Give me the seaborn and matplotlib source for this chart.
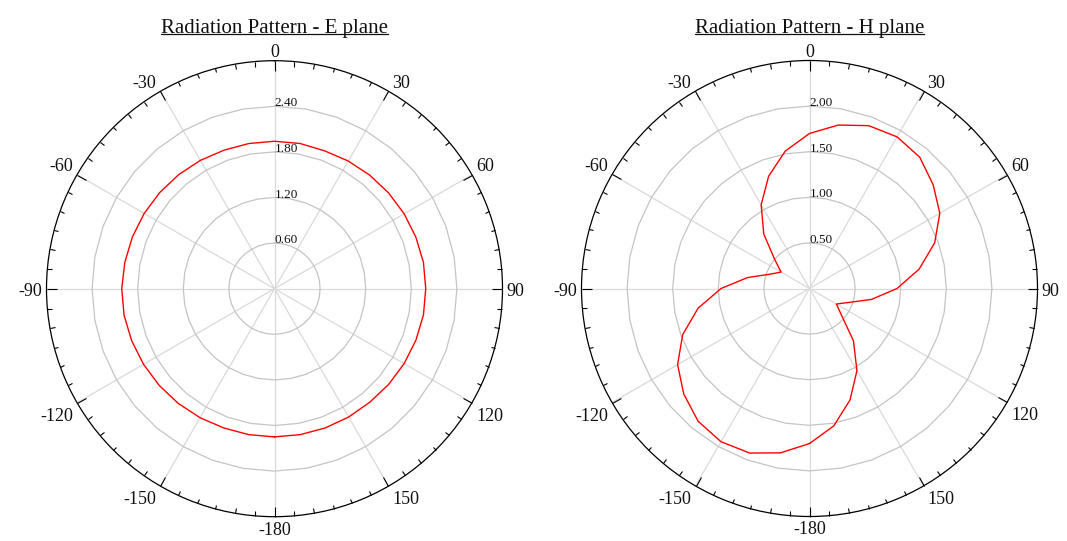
import numpy as np
import pandas as pd
import matplotlib
matplotlib.use("Agg")
import matplotlib.pyplot as plt
from matplotlib.lines import Line2D
import seaborn as sns

# Antenna gain versus angle (degrees, 0 = boresight, clockwise positive)
angles_deg = [-180, -170, -160, -150, -140, -130, -120, -110, -100, -90,
              -80, -70, -60, -50, -40, -30, -20, -10, 0,
              10, 20, 30, 40, 50, 60, 70, 80, 90,
              100, 110, 120, 130, 140, 150, 160, 170, 180]

e_plane_gain = [1.95, 1.95, 1.95, 1.96, 1.97, 1.98, 1.99, 2.00, 2.01, 2.01,
                2.00, 1.99, 1.98, 1.97, 1.96, 1.95, 1.94, 1.94, 1.94,
                1.94, 1.93, 1.94, 1.95, 1.96, 1.97, 1.98, 1.99, 1.99,
                1.99, 1.98, 1.97, 1.96, 1.95, 1.95, 1.95, 1.95, 1.95]

h_plane_gain = [1.70, 1.83, 1.92, 1.94, 1.90, 1.80, 1.67, 1.48, 1.24, 0.97,
                0.69, 0.46, 0.36, 0.50, 0.78, 1.06, 1.31, 1.53, 1.70,
                1.82, 1.90, 1.92, 1.88, 1.77, 1.65, 1.46, 1.22, 0.96,
                0.69, 0.45, 0.34, 0.46, 0.75, 1.04, 1.30, 1.53, 1.70]

e_rings = [0.60, 1.20, 1.80, 2.40]
h_rings = [0.50, 1.00, 1.50, 2.00]
e_rmax = 3.0
h_rmax = 2.5

theta_ticks_deg = [0, 30, 60, 90, 120, 150, 180, 210, 240, 270, 300, 330]
theta_tick_labels = ["0", "30", "60", "90", "120", "150",
                     "-180", "-150", "-120", "-90", "-60", "-30"]

sns.set_style("white")
plt.rcParams["font.family"] = ["Liberation Serif", "DejaVu Serif"]

W, H = 1067, 541
fig = plt.figure(figsize=(W / 100, H / 100), dpi=100, facecolor="white")

R_PX = 228
def polar_axes(cx, cy):
    rect = [(cx - R_PX) / W, (H - cy - R_PX) / H, 2 * R_PX / W, 2 * R_PX / H]
    return fig.add_axes(rect, projection="polar")


def draw_pattern(ax, gain, rmax, rings):
    df = pd.DataFrame({"theta": np.deg2rad(angles_deg), "gain": gain})
    ax.set_theta_zero_location("N")
    ax.set_theta_direction(-1)

    # polygonal range rings
    ring_theta = np.deg2rad(np.arange(0, 361, 10))
    for r in rings:
        ax.plot(ring_theta, np.full(ring_theta.shape, r),
                color="#c4c4c4", lw=0.9, zorder=1)
        ax.text(0, r, f"{r:.2f}", ha="left", va="baseline",
                fontsize=9.5, color="#111111", zorder=3)

    sns.lineplot(data=df, x="theta", y="gain", ax=ax, sort=False,
                 estimator=None, color="#ff0000", lw=1.0, zorder=4)
    ax.set_xlabel("")
    ax.set_ylabel("")
    ax.set_ylim(0, rmax)
    ax.set_yticks([])

    ax.set_xticks(np.deg2rad(theta_ticks_deg))
    ax.set_xticklabels([])
    ax.set_xticks(np.deg2rad(np.arange(0, 360, 5)), minor=True)
    ax.tick_params(axis="x", which="major", direction="in", length=7.3,
                   width=0.8, color="black", bottom=False, top=True,
                   labeltop=False, labelbottom=False)
    ax.tick_params(axis="x", which="minor", direction="in", length=3.3,
                   width=0.8, color="black", bottom=False, top=True,
                   labeltop=False, labelbottom=False)
    ax.xaxis.grid(True, which="major", color="#d9d9d9", lw=0.9)
    ax.yaxis.grid(False)
    ax.spines["polar"].set_color("black")
    ax.spines["polar"].set_linewidth(0.9)

    for deg, lab in zip(theta_ticks_deg, theta_tick_labels):
        s, c = np.sin(np.deg2rad(deg)), np.cos(np.deg2rad(deg))
        if abs(s) < 1e-6:
            ha, dx = "center", 0
        elif s > 0:
            ha, dx = "left", 4
        else:
            ha, dx = "right", -4
        if abs(c) < 1e-6:
            va, dy = "center", -3
        elif c > 0:
            va, dy = "baseline", 3.5
        else:
            va, dy = "top", -5
        ax.annotate(lab, xy=(np.deg2rad(deg), rmax), xytext=(dx, dy),
                    textcoords="offset pixels", ha=ha, va=va, fontsize=13,
                    color="#111111", annotation_clip=False)


ax_e = polar_axes(274.5, 288.7)
draw_pattern(ax_e, e_plane_gain, e_rmax, e_rings)
ax_h = polar_axes(809.5, 288.5)
draw_pattern(ax_h, h_plane_gain, h_rmax, h_rings)

# underlined titles
title_y = (H - 32.7) / H
titles = [(274.5, "Radiation Pattern - E plane"),
          (809.5, "Radiation Pattern - H plane")]
texts = [fig.text(cx / W, title_y, t, ha="center", va="baseline",
                  fontsize=15, color="#111111") for cx, t in titles]
fig.canvas.draw()
for t in texts:
    bb = t.get_window_extent()
    y = (H - 33.8) / H
    fig.add_artist(Line2D([bb.x0 / W, bb.x1 / W], [y, y],
                          transform=fig.transFigure, color="#111111", lw=0.9))

fig.savefig("out.png", dpi=100)
